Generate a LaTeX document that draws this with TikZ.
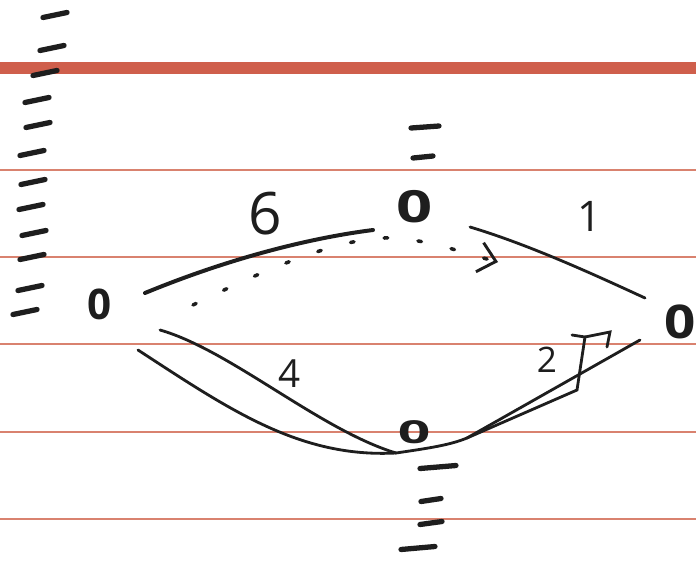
\documentclass[tikz,border=0pt]{standalone}
\usepackage{fontspec}
\setmainfont{Open Sans}
\usepackage{graphicx}
\usepackage{tikz}
\usetikzlibrary{arrows.meta}
\definecolor{PaperRed}{HTML}{D9826F}
\definecolor{MarginRed}{HTML}{CF5F4C}
\definecolor{Ink}{HTML}{1E1E1E}
\newcommand{\zero}[2]{\scalebox{#1}[#2]{0}}
\tikzset{
  ruled/.style={draw=PaperRed, line width=1.6pt},
  tally/.style={draw=Ink, line width=4.5pt, line cap=round},
  vertex/.style={inner sep=0pt, font=\bfseries\fontsize{36}{36}\selectfont, text=Ink},
  weight/.style={inner sep=0pt, font=\fontsize{33}{33}\selectfont, text=Ink},
  edge/.style={draw=Ink, line width=2.4pt, line cap=round},
  dotedge/.style={draw=Ink, line width=3pt, dash pattern=on 3pt off 26pt, line cap=round}
}
\begin{document}
\begin{tikzpicture}[x=0.03cm, y=-0.03cm]
\useasboundingbox[fill=white] (0,0) rectangle (696,561);
% ruled paper
\draw[draw=MarginRed, line width=10pt] (0,68) -- (696,68);
\foreach \y in {170,257,344,432,519}
  \draw[ruled] (0,\y) -- (696,\y);
% tallies down the left margin
\foreach \x/\y in {55/15,52/48,45/73,37/100,38/125,32/153,33/182,31/207,34/233,32/257,30/288,25/312}
  \draw[tally] (\x-12,\y+2.5) -- (\x+12,\y-2.5);
% tallies above and below the middle column
\foreach \x/\y/\l in {425/127/14,423/157/10}
  \draw[tally] (\x-\l,\y+1) -- (\x+\l,\y-1);
\foreach \x/\y/\l in {438/467/18,431/500/10,431/523/11,418/548/17}
  \draw[tally] (\x-\l,\y+1.5) -- (\x+\l,\y-1.5);

% vertices
\node[vertex] (L) at (100,304) {\zero{1}{1}};
\node[vertex] (T) at (415,207) {\zero{1.5}{1.05}};
\node[vertex] (R) at (680,322) {\zero{1.3}{1.1}};
\node[vertex] (B) at (414,432) {\zero{1.35}{0.75}};

% edge ends
\coordinate (L-top) at (145,293);
\coordinate (L-dot) at (193,305);
\coordinate (L-mid) at (160,330);
\coordinate (L-low) at (138,350);
\coordinate (T-in) at (373,230);
\coordinate (T-tip) at (498,262);
\coordinate (T-out) at (470,227);
\coordinate (R-in) at (645,298);
\coordinate (B-in) at (396,453);
\coordinate (B-out) at (467,438);
\coordinate (R-low) at (640,340);

% weights
\node[weight, font=\fontsize{50}{50}\selectfont] (w6) at (265,214) {6};
\node[weight, font=\fontsize{36}{36}\selectfont] (w1) at (590,216) {1};
\node[weight] (w4) at (290,374) {4};
\node[weight, font=\fontsize{30}{30}\selectfont] (w2) at (547,360) {2};

% connectors
\draw[edge, line width=3.4pt] (L-top) .. controls (230,258) and (310,238) .. (T-in);
\draw[dotedge, -{Straight Barb[length=5mm, width=9mm, line width=2.5pt]}]
  (L-dot) .. controls (260,272) and (340,236) .. (392,238)
  .. controls (430,240) and (460,252) .. (T-tip);
\draw[edge] (T-out) .. controls (530,245) and (595,275) .. (R-in);
\draw[edge] (L-mid) .. controls (230,350) and (320,430) .. (B-in);
\draw[edge] (L-low) .. controls (230,410) and (300,458) .. (B-in);
\draw[edge] (B-in) .. controls (430,448) and (450,445) .. (B-out) -- (R-low);
\draw[edge] (B-out) -- (577,390) -- (585,337) -- (572,335);
\draw[edge] (585,337) -- (610,332) -- (607,347);
\end{tikzpicture}
\end{document}
